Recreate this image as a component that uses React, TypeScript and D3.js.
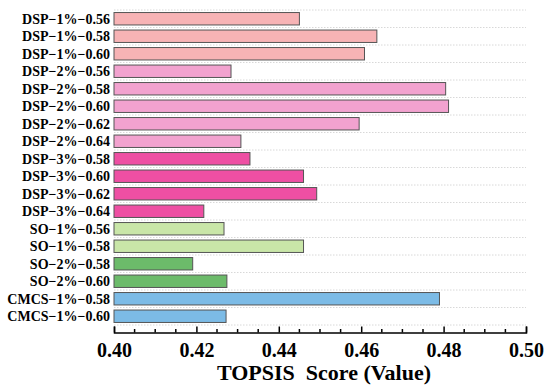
import React, { useRef, useEffect } from "react";
import * as d3 from "d3";

// chart data
const labels = [
  "DSP−1%−0.56", "DSP−1%−0.58", "DSP−1%−0.60",
  "DSP−2%−0.56", "DSP−2%−0.58", "DSP−2%−0.60", "DSP−2%−0.62", "DSP−2%−0.64",
  "DSP−3%−0.58", "DSP−3%−0.60", "DSP−3%−0.62", "DSP−3%−0.64",
  "SO−1%−0.56", "SO−1%−0.58", "SO−2%−0.58", "SO−2%−0.60",
  "CMCS−1%−0.58", "CMCS−1%−0.60",
];
const scores = [
  0.4450, 0.4638, 0.4608,
  0.4284, 0.4805, 0.4812, 0.4595, 0.4308,
  0.4330, 0.4460, 0.4492, 0.4218,
  0.4267, 0.4460, 0.4191, 0.4274,
  0.4790, 0.4272,
];
const groups = [
  "DSP1", "DSP1", "DSP1",
  "DSP2", "DSP2", "DSP2", "DSP2", "DSP2",
  "DSP3", "DSP3", "DSP3", "DSP3",
  "SO1", "SO1", "SO2", "SO2",
  "CMCS", "CMCS",
];
const groupNames = ["DSP1", "DSP2", "DSP3", "SO1", "SO2", "CMCS"];
const groupColors = ["#F7B3B5", "#F2A2CF", "#EE4FA3", "#C9E6A8", "#6CBB6A", "#7CBBE6"];
const xTicks = [0.40, 0.42, 0.44, 0.46, 0.48, 0.50];
const xDomain = [0.40, 0.50];

const W = 550;
const H = 392;
const left = 114;
const right = 526;
const plotTop = 10;
const plotBottom = 325;
const axisY = 332.5;
const font = "'Liberation Serif', 'Times New Roman', serif";

const App = () => {
  const svgRef = useRef(null);

  useEffect(() => {
    const svg = d3.select(svgRef.current);
    svg.selectAll("*").remove();

    const xScale = d3.scaleLinear().domain(xDomain).range([left, right]);
    const yScale = d3.scaleBand().domain(labels).range([plotTop, plotBottom]).paddingInner(0.29).paddingOuter(0.145);
    const color = d3.scaleOrdinal().domain(groupNames).range(groupColors);
    const step = yScale.step();

    // dotted grid lines at row edges
    const gridG = svg.append("g");
    d3.range(labels.length + 1).forEach(i => {
      gridG.append("line")
        .attr("x1", left).attr("x2", right)
        .attr("y1", plotTop + i * step).attr("y2", plotTop + i * step)
        .attr("stroke", "#d8d8d8")
        .attr("stroke-width", 1)
        .attr("stroke-dasharray", "1.5,1.5");
    });

    // bars
    svg.append("g")
      .selectAll("rect")
      .data(labels)
      .enter()
      .append("rect")
      .attr("x", xScale(xDomain[0]))
      .attr("y", d => yScale(d))
      .attr("width", (d, i) => xScale(scores[i]) - xScale(xDomain[0]))
      .attr("height", yScale.bandwidth())
      .attr("fill", (d, i) => color(groups[i]))
      .attr("stroke", "#555")
      .attr("stroke-width", 1);

    // y labels
    svg.append("g")
      .selectAll("text")
      .data(labels)
      .enter()
      .append("text")
      .attr("x", left - 4)
      .attr("y", d => yScale(d) + yScale.bandwidth() / 2)
      .attr("dy", "0.35em")
      .attr("text-anchor", "end")
      .attr("font-family", font)
      .attr("font-weight", "bold")
      .attr("font-size", 14)
      .attr("fill", "#000")
      .text(d => d);

    // x axis, ticks pointing up
    const xAxis = d3.axisBottom(xScale).tickValues(xTicks).tickSize(-6).tickPadding(10)
      .tickFormat(d3.format(".2f"));
    const xAxisSvg = svg.append("g").attr("transform", `translate(0,${axisY})`);
    xAxisSvg.call(xAxis);
    xAxisSvg.select(".domain").attr("stroke", "#000").attr("stroke-width", 1.5);
    xAxisSvg.selectAll(".tick line").attr("stroke", "#000").attr("stroke-width", 1.5);
    xAxisSvg.selectAll(".tick text")
      .attr("font-family", font)
      .attr("font-weight", "bold")
      .attr("font-size", 20)
      .attr("fill", "#000");

    // minor ticks
    const minor = d3.range(0.405, 0.5, 0.005).filter(v => Math.abs(v * 50 - Math.round(v * 50)) > 1e-6);
    svg.append("g")
      .selectAll("line")
      .data(minor)
      .enter()
      .append("line")
      .attr("x1", d => xScale(d)).attr("x2", d => xScale(d))
      .attr("y1", axisY).attr("y2", axisY - 3.5)
      .attr("stroke", "#000")
      .attr("stroke-width", 1.5);

    // axis title
    svg.append("text")
      .attr("x", (left + right) / 2 + 4)
      .attr("y", 380)
      .attr("text-anchor", "middle")
      .attr("font-family", font)
      .attr("font-weight", "bold")
      .attr("font-size", 22)
      .attr("fill", "#000")
      .style("white-space", "pre")
      .text("TOPSIS  Score (Value)");
  }, []);

  return (
    <svg ref={svgRef} width={W} height={H}
      style={{ position: "absolute", left: 0, top: 0, background: "#fff" }}>
    </svg>
  );
};

export default App;
